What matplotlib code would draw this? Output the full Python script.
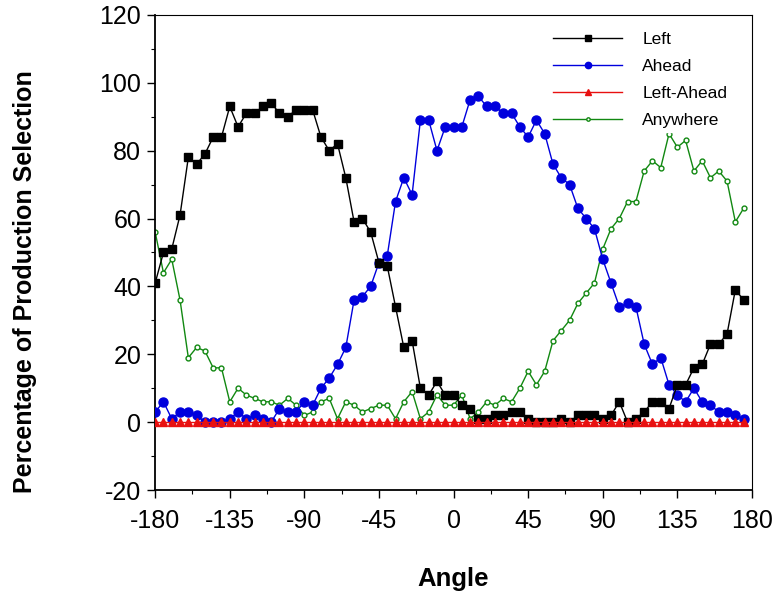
import numpy as np
import matplotlib
matplotlib.use("Agg")
import matplotlib.pyplot as plt
import matplotlib.ticker as mticker

plt.rcParams["font.family"] = ["Liberation Sans", "DejaVu Sans"]
plt.rcParams["axes.unicode_minus"] = False

# --- Veri (5 derece aralik, -180..175) ---
angles = list(range(-180, 180, 5))

left = [41, 50, 51, 61, 78, 76, 79, 84, 84, 93, 87, 91, 91, 93, 94, 91, 90, 92, 92, 92, 84, 80, 82, 72,
        59, 60, 56, 47, 46, 34, 22, 24, 10, 8, 12, 8, 8, 5, 4, 1, 1, 2, 2, 3, 3, 1, 0, 0,
        0, 1, 0, 2, 2, 2, 1, 2, 6, 0, 1, 3, 6, 6, 4, 11, 11, 16, 17, 23, 23, 26, 39, 36]

ahead = [3, 6, 1, 3, 3, 2, 0, 0, 0, 1, 3, 1, 2, 1, 0, 4, 3, 3, 6, 5, 10, 13, 17, 22,
         36, 37, 40, 47, 49, 65, 72, 67, 89, 89, 80, 87, 87, 87, 95, 96, 93, 93, 91, 91, 87, 84, 89, 85,
         76, 72, 70, 63, 60, 57, 48, 41, 34, 35, 34, 23, 17, 19, 11, 8, 6, 10, 6, 5, 3, 3, 2, 1]

left_ahead = [0] * 72

anywhere = [56, 44, 48, 36, 19, 22, 21, 16, 16, 6, 10, 8, 7, 6, 6, 5, 7, 5, 2, 3, 6, 7, 1, 6,
            5, 3, 4, 5, 5, 1, 6, 9, 1, 3, 8, 5, 5, 8, 1, 3, 6, 5, 7, 6, 10, 15, 11, 15,
            24, 27, 30, 35, 38, 41, 51, 57, 60, 65, 65, 74, 77, 75, 85, 81, 83, 74, 77, 72, 74, 71, 59, 63]

x_ticks = [-180, -135, -90, -45, 0, 45, 90, 135, 180]
y_ticks = [-20, 0, 20, 40, 60, 80, 100, 120]

fig = plt.figure(figsize=(7.72, 5.94), dpi=100)
ax = fig.add_axes([0.201, 0.175, 0.773, 0.800])

ax.plot(angles, left, color="black", linewidth=1, marker="s", markersize=6.2,
        markeredgecolor="black", markerfacecolor="black", label="Left", zorder=4)
ax.plot(angles, ahead, color="#0000dd", linewidth=1, marker="o", markersize=6.5,
        markeredgecolor="#0000dd", markerfacecolor="#0000dd", label="Ahead", zorder=3)
ax.plot(angles, left_ahead, color="#e81010", linewidth=1, marker="^", markersize=6,
        markeredgecolor="#e81010", markerfacecolor="#e81010", label="Left-Ahead", zorder=5)
ax.plot(angles, anywhere, color="#118811", linewidth=1, marker="o", markersize=3.5,
        markeredgecolor="#118811", markerfacecolor="white", markeredgewidth=1,
        label="Anywhere", zorder=2)

ax.set_xlim(-180, 180)
ax.set_ylim(-20, 120)
ax.set_xticks(x_ticks)
ax.set_yticks(y_ticks)
ax.xaxis.set_minor_locator(mticker.MultipleLocator(22.5))
ax.yaxis.set_minor_locator(mticker.MultipleLocator(10))
ax.tick_params(axis="both", which="major", direction="out", length=6, labelsize=18, width=1)
ax.tick_params(axis="both", which="minor", direction="out", length=3, width=0.8)
ax.tick_params(axis="x", pad=8)
ax.tick_params(axis="y", pad=4)

for s in ["left", "bottom"]:
    ax.spines[s].set_linewidth(1.3)
for s in ["top", "right"]:
    ax.spines[s].set_linewidth(0.8)

ax.set_xlabel("Angle", fontsize=18.5, fontweight="bold", labelpad=24)
fig.text(25 / 772, 1 - 282 / 594, "Percentage of Production Selection", rotation=90,
         fontsize=18, fontweight="bold", ha="center", va="center")

leg = ax.legend(loc="upper left", bbox_to_anchor=(0.646, 0.989), frameon=True, fontsize=12.5,
                handlelength=4.0, markerscale=0.7, borderpad=0.2, labelspacing=0.68,
                handletextpad=1.15, edgecolor="white", framealpha=1, fancybox=False)
# legend yesil cizginin ustunde, mavi/siyah noktalarin altinda
leg.set_zorder(2.5)

plt.savefig("out.png", dpi=100)
plt.close()
